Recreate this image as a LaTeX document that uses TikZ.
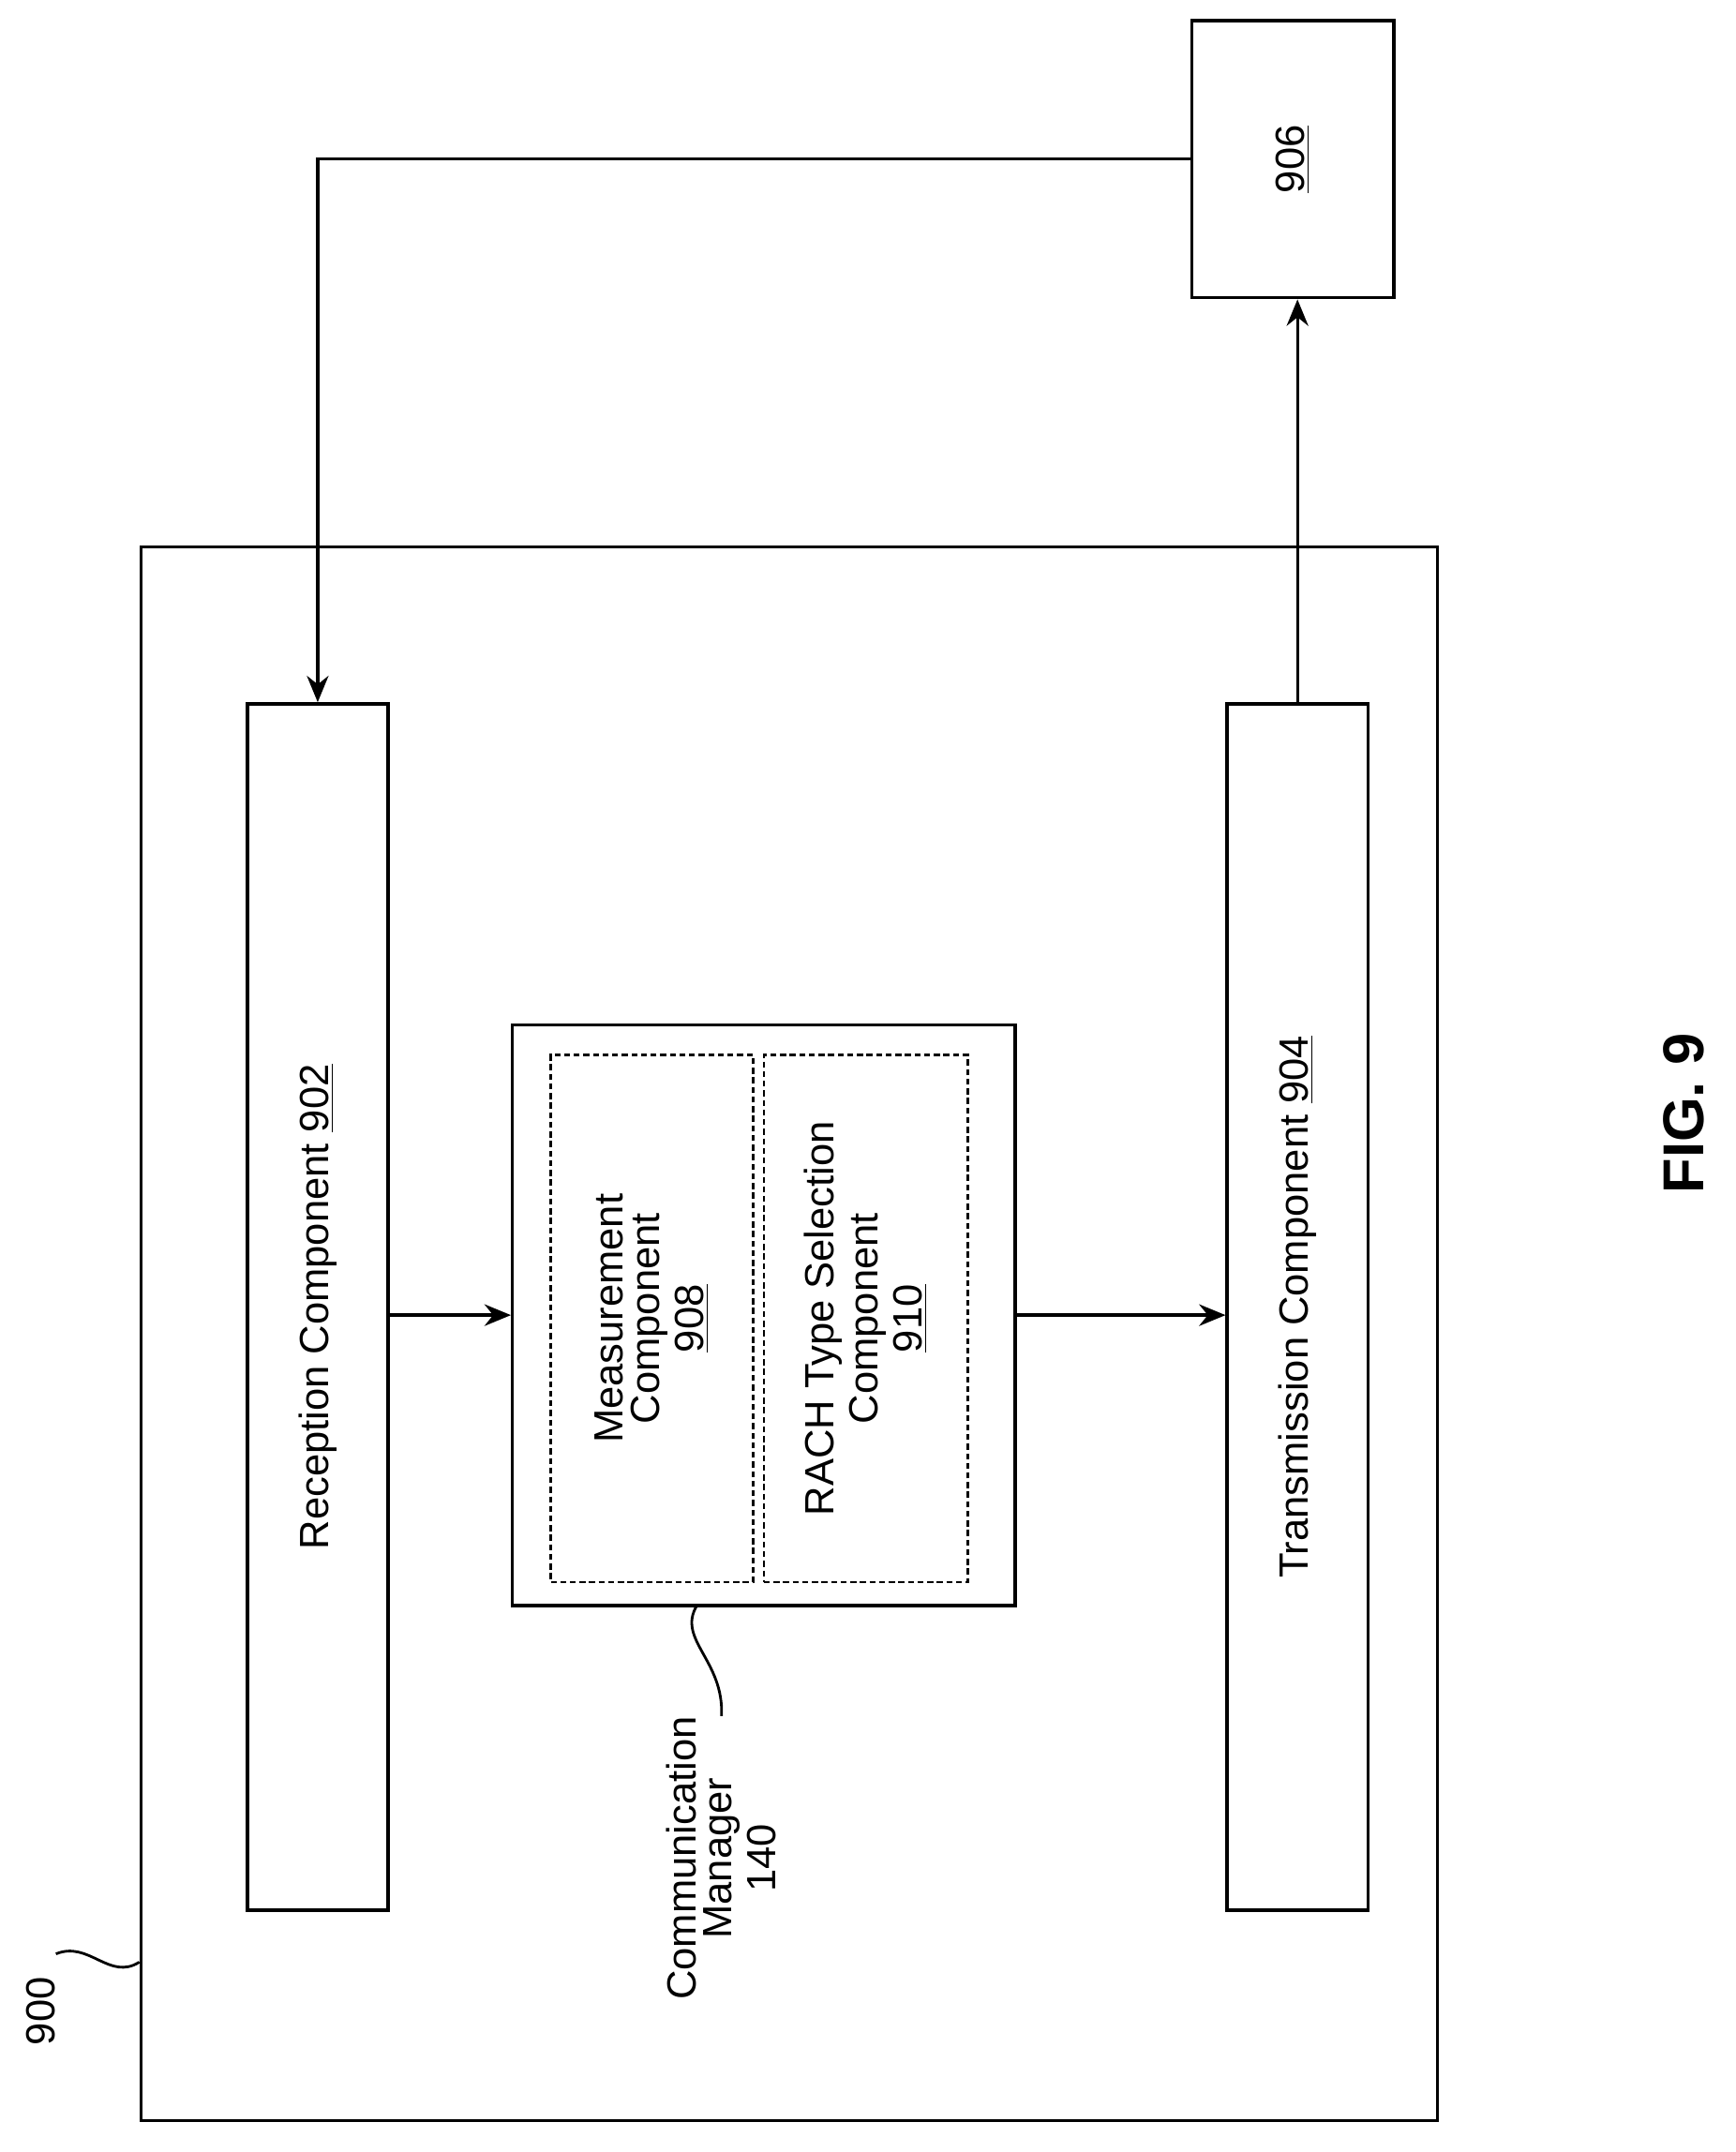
\documentclass[tikz,border=0pt]{standalone}
\usepackage{fontspec}
\setmainfont{Liberation Sans}
\usetikzlibrary{arrows.meta}
\begin{document}
\begin{tikzpicture}[x=0.02cm,y=-0.02cm,
  box/.style={draw,line width=1.3pt,inner sep=0pt},
  dbox/.style={draw,line width=1.1pt,dash pattern=on 2.5pt off 1.5pt,inner sep=0pt,align=center},
  arr/.style={line width=1.3pt,-{Stealth[length=11pt,width=9pt]}},
  txt/.style={font=\fontsize{17}{20}\selectfont}]
\useasboundingbox (0,0) rectangle (1270,1575);
% frame 900
\node[box,minimum width=18.98cm,minimum height=23.04cm] (dev) at (577.5,976) {};
\node[box,txt,minimum width=2.06cm,minimum height=17.66cm] (rec) at (232.5,956.5)
  {\rotatebox{90}{Reception Component \underline{902}}};
\node[box,txt,minimum width=2.06cm,minimum height=17.66cm] (tx) at (949.5,956.5)
  {\rotatebox{90}{Transmission Component \underline{904}}};
\node[box,minimum width=7.36cm,minimum height=8.5cm] (cm) at (559,962.5) {};
\node[dbox,txt,minimum width=2.96cm,minimum height=7.72cm] (meas) at (477,965)
  {\rotatebox{90}{\shortstack{Measurement\\Component\\\underline{908}}}};
\node[dbox,txt,minimum width=2.98cm,minimum height=7.72cm] (rach) at (633.5,965)
  {\rotatebox{90}{\shortstack{RACH Type Selection\\Component\\\underline{910}}}};
\node[box,txt,minimum width=2.96cm,minimum height=4.06cm] (b906) at (946,116.5)
  {\rotatebox{90}{\underline{906}}};
% arrows
\draw[arr] (b906.west) -| (rec.north);
\draw[arr] (tx.north) -- (tx.north |- b906.south);
\draw[arr] (rec.east |- cm.west) -- (cm.west);
\draw[arr] (cm.east) -- (tx.west |- cm.east);
% labels
\node[txt,inner sep=0pt] (cmlbl) at (528,1360)
  {\rotatebox{90}{\shortstack{Communication\\Manager\\140}}};
\coordinate (cmtip) at (510,1175);
\draw[line width=1.1pt] (cmtip) .. controls (495,1200) and (530,1215) .. (cmlbl.north);
\node[txt,inner sep=0pt] (lbl900) at (30,1472) {\rotatebox{90}{900}};
\coordinate (devtip) at (dev.west |- 0,1436);
\draw[line width=1.1pt] (lbl900.east |- 0,1430) .. controls (65,1420) and (80,1450) .. (devtip);
\node[inner sep=0pt,font=\fontsize{24}{28}\selectfont\bfseries] (fig) at (1232,815)
  {\rotatebox{90}{FIG. 9}};
\end{tikzpicture}
\end{document}
